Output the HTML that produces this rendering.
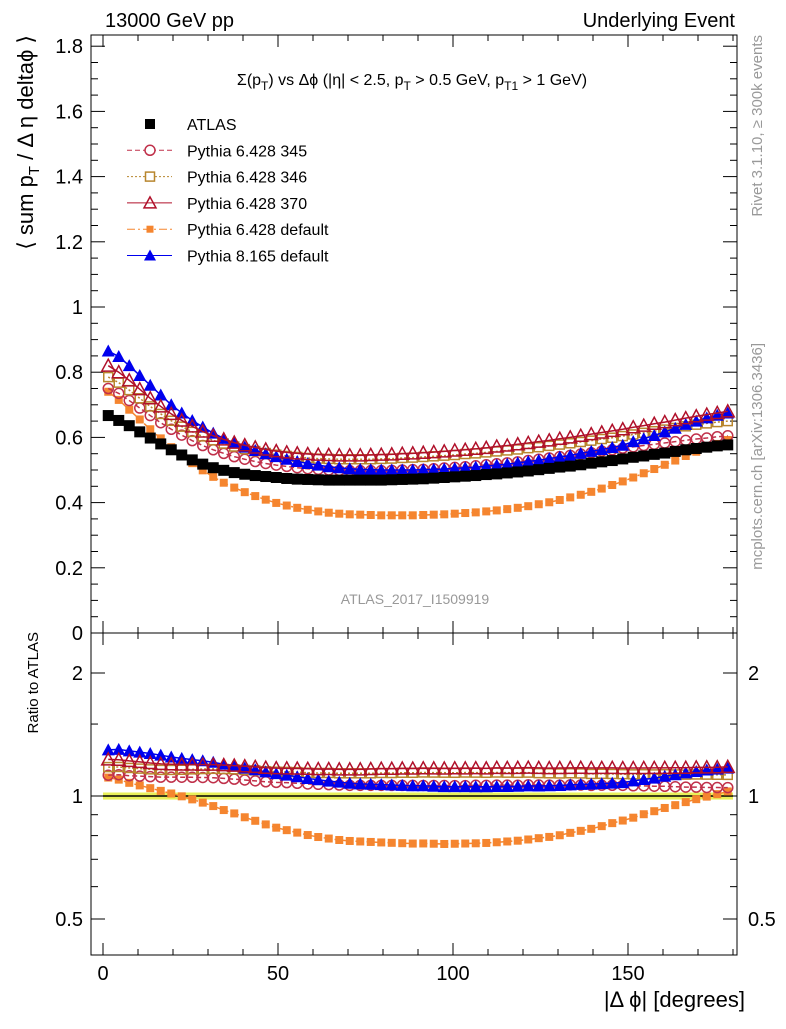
<!DOCTYPE html>
<html><head><meta charset="utf-8"><style>
body{margin:0;background:#fff;width:786px;height:1024px;overflow:hidden}
svg text{font-family:"Liberation Sans",sans-serif}
</style></head><body>
<svg id="chart" width="786" height="1024" xmlns="http://www.w3.org/2000/svg"></svg>
<script>
const xCenters=[1.5,4.5,7.5,10.5,13.5,16.5,19.5,22.5,25.5,28.5,31.5,34.5,37.5,40.5,43.5,46.5,49.5,52.5,55.5,58.5,61.5,64.5,67.5,70.5,73.5,76.5,79.5,82.5,85.5,88.5,91.5,94.5,97.5,100.5,103.5,106.5,109.5,112.5,115.5,118.5,121.5,124.5,127.5,130.5,133.5,136.5,139.5,142.5,145.5,148.5,151.5,154.5,157.5,160.5,163.5,166.5,169.5,172.5,175.5,178.5];
const atlas=[0.667,0.652,0.636,0.617,0.598,0.58,0.562,0.546,0.531,0.518,0.507,0.499,0.492,0.487,0.483,0.48,0.477,0.474,0.472,0.471,0.470,0.469,0.469,0.469,0.469,0.469,0.469,0.470,0.471,0.472,0.473,0.475,0.477,0.479,0.481,0.483,0.486,0.488,0.491,0.494,0.497,0.501,0.505,0.509,0.512,0.516,0.521,0.525,0.529,0.534,0.539,0.543,0.548,0.552,0.557,0.562,0.566,0.57,0.574,0.577];
const p345=[0.75,0.735,0.713,0.69,0.667,0.645,0.625,0.607,0.59,0.575,0.562,0.551,0.541,0.533,0.526,0.52,0.515,0.511,0.507,0.504,0.502,0.5,0.499,0.498,0.498,0.498,0.498,0.499,0.5,0.501,0.502,0.504,0.506,0.508,0.51,0.513,0.516,0.519,0.522,0.525,0.529,0.533,0.537,0.541,0.545,0.549,0.553,0.558,0.562,0.567,0.571,0.575,0.579,0.583,0.587,0.591,0.595,0.598,0.602,0.605];
const p346=[0.785,0.768,0.745,0.72,0.695,0.672,0.651,0.633,0.617,0.603,0.591,0.581,0.572,0.564,0.558,0.552,0.547,0.543,0.54,0.537,0.535,0.534,0.533,0.533,0.533,0.533,0.534,0.535,0.537,0.538,0.54,0.542,0.544,0.546,0.549,0.551,0.554,0.557,0.56,0.563,0.567,0.57,0.574,0.578,0.582,0.586,0.59,0.595,0.599,0.604,0.609,0.614,0.619,0.624,0.629,0.634,0.639,0.643,0.647,0.65];
const p370=[0.82,0.80,0.775,0.748,0.72,0.695,0.672,0.652,0.634,0.618,0.605,0.594,0.584,0.576,0.569,0.563,0.558,0.554,0.551,0.549,0.547,0.546,0.545,0.545,0.545,0.546,0.547,0.548,0.55,0.551,0.553,0.555,0.557,0.56,0.562,0.565,0.568,0.572,0.575,0.579,0.583,0.587,0.591,0.596,0.6,0.605,0.61,0.615,0.62,0.625,0.631,0.636,0.642,0.647,0.653,0.659,0.665,0.67,0.675,0.68];
const p6def=[0.74,0.715,0.685,0.655,0.625,0.597,0.57,0.545,0.521,0.499,0.479,0.461,0.446,0.432,0.42,0.409,0.399,0.391,0.384,0.378,0.373,0.369,0.366,0.364,0.363,0.362,0.361,0.361,0.361,0.361,0.362,0.363,0.364,0.366,0.368,0.37,0.373,0.376,0.38,0.384,0.389,0.395,0.401,0.408,0.416,0.424,0.433,0.443,0.454,0.465,0.477,0.49,0.503,0.516,0.529,0.543,0.556,0.568,0.58,0.592];
const p8def=[0.865,0.848,0.82,0.79,0.76,0.73,0.70,0.675,0.652,0.632,0.613,0.597,0.583,0.57,0.56,0.55,0.541,0.533,0.526,0.52,0.515,0.51,0.507,0.504,0.502,0.501,0.5,0.5,0.5,0.5,0.501,0.502,0.503,0.505,0.507,0.509,0.512,0.515,0.518,0.522,0.526,0.53,0.535,0.54,0.545,0.551,0.557,0.563,0.569,0.576,0.587,0.596,0.606,0.617,0.628,0.64,0.65,0.66,0.668,0.675];
const xTicks=[0,50,100,150];
const yTicks=[0,0.2,0.4,0.6,0.8,1,1.2,1.4,1.6,1.8];
const rTicks=[0.5,1,2];

const NS="http://www.w3.org/2000/svg";
const svg=document.getElementById('chart');
function el(tag,attrs,parent){const e=document.createElementNS(NS,tag);for(const k in attrs)e.setAttribute(k,attrs[k]);(parent||svg).appendChild(e);return e;}
const L=91,R=737,T=35,M=633,B=955;
const X=v=>103+v*3.5;
const Y=v=>633-v*326;
const RY=v=>796-Math.log2(v)*123;

let f=el('rect',{x:L,y:T,width:R-L,height:M-T,fill:'none',stroke:'#000','stroke-width':1});

f=el('rect',{x:L,y:M,width:R-L,height:B-M,fill:'none',stroke:'#000','stroke-width':1});


for(let v=0;v<=180;v+=10){const major=v%50===0;const len=major?12:6;
 for(const [yb,yt] of [[M,T],[B,M]]){
  el('line',{x1:X(v),x2:X(v),y1:yb,y2:yb-len,stroke:'#000'});
  el('line',{x1:X(v),x2:X(v),y1:yt,y2:yt+len,stroke:'#000'});
 }}
xTicks.forEach(v=>{const t=el('text',{x:X(v),y:980,'font-size':20,'text-anchor':'middle'});t.textContent=v;
});
for(let i=0;i<=36;i++){const v=i*0.05;const major=i%4===0;const len=major?14:7;const y=Y(v);if(y<T)continue;
 el('line',{x1:L,x2:L+len,y1:y,y2:y,stroke:'#000'});el('line',{x1:R,x2:R-len,y1:y,y2:y,stroke:'#000'});}
yTicks.forEach(v=>{const t=el('text',{x:83,y:Y(v)+7,'font-size':20,'text-anchor':'end'});t.textContent=String(v);
});
[0.5,0.6,0.7,0.8,0.9,1,1.5,2].forEach(v=>{const major=rTicks.includes(v);const len=major?14:7;const y=RY(v);
 el('line',{x1:L,x2:L+len,y1:y,y2:y,stroke:'#000'});el('line',{x1:R,x2:R-len,y1:y,y2:y,stroke:'#000'});});
rTicks.forEach(v=>{let t=el('text',{x:83,y:RY(v)+7,'font-size':20,'text-anchor':'end'});t.textContent=String(v);

t=el('text',{x:748,y:RY(v)+7,'font-size':20});t.textContent=String(v);
});

let bd=el('rect',{x:X(0),y:RY(1.02),width:X(180)-X(0),height:RY(0.98)-RY(1.02),fill:'#e8f05a'});

el('line',{x1:X(0),x2:X(180),y1:RY(1),y2:RY(1),stroke:'#000','stroke-width':1.5});

function marker(g,type,x,y,c,s){
 if(type==='sq') return el('rect',{x:x-s,y:y-s,width:2*s,height:2*s,fill:c},g);
 if(type==='osq') return el('rect',{x:x-s,y:y-s,width:2*s,height:2*s,fill:'none',stroke:c,'stroke-width':1.5},g);
 if(type==='oc') return el('circle',{cx:x,cy:y,r:s,fill:'none',stroke:c,'stroke-width':1.5},g);
 if(type==='otri') return el('polygon',{points:`${x},${y-s-1} ${x-s-1},${y+s} ${x+s+1},${y+s}`,fill:'none',stroke:c,'stroke-width':1.5},g);
 if(type==='tri') return el('polygon',{points:`${x},${y-s-1} ${x-s-1},${y+s} ${x+s+1},${y+s}`,fill:c},g);
}
const series=[
 {name:'pythia-6-428-default',d:p6def,c:'#f5852f',m:'sq',s:4,dash:'8,3,2,3'},
 {name:'pythia-6-428-345',d:p345,c:'#c0304a',m:'oc',s:5,dash:'5,3'},
 {name:'pythia-6-428-346',d:p346,c:'#b8862e',m:'osq',s:4.5,dash:'2,2'},
 {name:'pythia-8-165-default',d:p8def,c:'#0000ee',m:'tri',s:5.5,dash:''},
 {name:'pythia-6-428-370',d:p370,c:'#b0102a',m:'otri',s:5.5,dash:''},
];
series.forEach(sr=>{
 const g=el('g',{});
 const pm=sr.d.map((v,i)=>X(xCenters[i])+','+Y(v)).join(' ');
 const pr=sr.d.map((v,i)=>X(xCenters[i])+','+RY(v/atlas[i])).join(' ');
 const l1=el('polyline',{points:pm,fill:'none',stroke:sr.c,'stroke-width':1.5,'stroke-dasharray':sr.dash},g);
 
 const l2=el('polyline',{points:pr,fill:'none',stroke:sr.c,'stroke-width':1.5,'stroke-dasharray':sr.dash},g);
 
 sr.d.forEach((v,i)=>{
  const m=marker(g,sr.m,X(xCenters[i]),Y(v),sr.c,sr.s);
  const r=marker(g,sr.m,X(xCenters[i]),RY(v/atlas[i]),sr.c,sr.s);
 });
});
const ga=el('g',{});
atlas.forEach((v,i)=>{const m=marker(ga,'sq',X(xCenters[i]),Y(v),'#000',5.5);});

const leg=[['ATLAS','#000','sq',5,null],['Pythia 6.428 345','#c0304a','oc',5,'5,3'],['Pythia 6.428 346','#b8862e','osq',4.5,'2,2'],['Pythia 6.428 370','#b0102a','otri',5,''],['Pythia 6.428 default','#f5852f','sq',3.5,'8,3,2,3'],['Pythia 8.165 default','#0000ee','tri',5,'']];
leg.forEach((e,i)=>{const y=124+i*26.3;const g=el('g',{});
 if(e[4]!==null) el('line',{x1:127,x2:172,y1:y,y2:y,stroke:e[1],'stroke-dasharray':e[4]},g);
 if(e[2]==='oc'||e[2]==='osq') el('rect',{x:150-e[3],y:y-e[3],width:2*e[3],height:2*e[3],fill:'#fff'},g);
 marker(g,e[2],150,y,e[1],e[3]);
 const t=el('text',{x:187,y:y+6,'font-size':16},g);t.textContent=e[0];});

function txt(x,y,s,content,attrs,name){const t=el('text',Object.assign({x:x,y:y,'font-size':s},attrs||{}));t.innerHTML=content;return t;}
txt(105,27,20,'13000 GeV pp',{},'energy-label');
txt(735,27,20,'Underlying Event',{'text-anchor':'end'},'process-label');
txt(412,85,16,'Σ(p<tspan font-size="12" dy="5">T</tspan><tspan dy="-5">) vs Δϕ (|η| &lt; 2.5, p</tspan><tspan font-size="12" dy="5">T</tspan><tspan dy="-5"> &gt; 0.5 GeV, p</tspan><tspan font-size="12" dy="5">T1</tspan><tspan dy="-5"> &gt; 1 GeV)</tspan>',{'text-anchor':'middle'},'plot-title');
txt(415,604,14,'ATLAS_2017_I1509919',{'text-anchor':'middle',fill:'#999'},'analysis-id');
txt(745,1007,22,'|Δ ϕ| [degrees]',{'text-anchor':'end'},'x-axis-title');
txt(0,0,22,'⟨ sum p<tspan font-size="15" dy="6">T</tspan><tspan dy="-6"> / Δ η deltaϕ ⟩</tspan>',{'text-anchor':'end',transform:'translate(33,35) rotate(-90)'},'y-axis-title');
txt(0,0,15,'Ratio to ATLAS',{'text-anchor':'end',transform:'translate(38,632) rotate(-90)'},'ratio-axis-title');
txt(0,0,15,'Rivet 3.1.10, ≥ 300k events',{'text-anchor':'end',fill:'#999',transform:'translate(762,35) rotate(-90)'},'rivet-label');
txt(0,0,15,'mcplots.cern.ch [arXiv:1306.3436]',{'text-anchor':'end',fill:'#999',transform:'translate(762,343) rotate(-90)'},'mcplots-label');
</script>
</body></html>
